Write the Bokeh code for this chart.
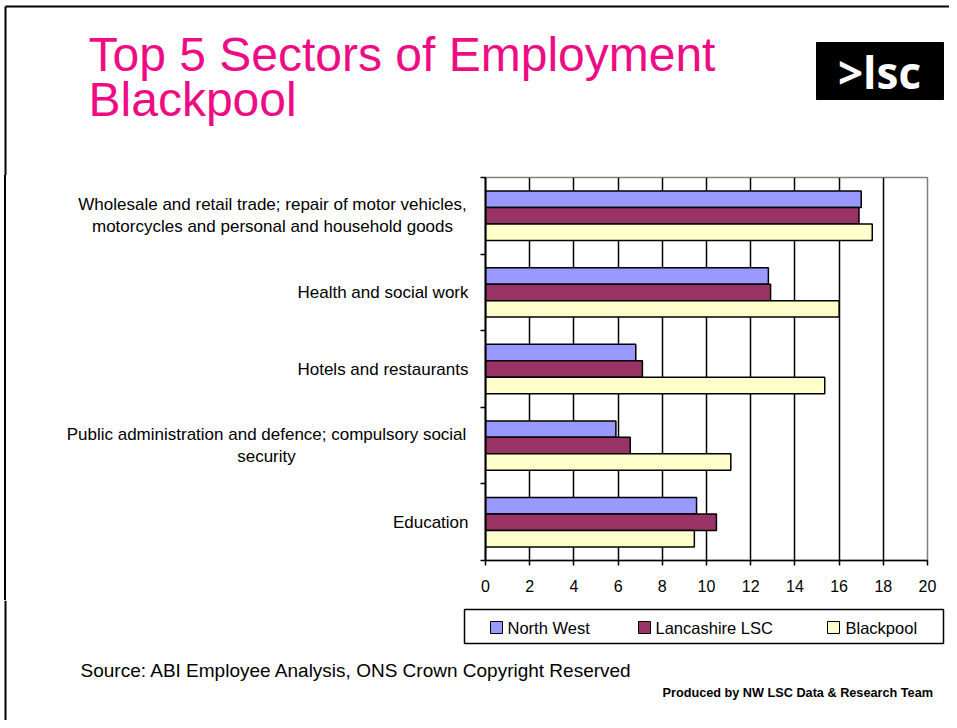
from bokeh.plotting import figure
from bokeh.models import (Range1d, FactorRange, LinearAxis, FixedTicker, ColumnDataSource, Grid)
from bokeh.transform import dodge
from bokeh.layouts import column, row
from bokeh.core.properties import value
from bokeh.embed import file_html
from bokeh.resources import INLINE

# ---------------- data ----------------
categories = [
    "Wholesale and retail trade; repair of motor vehicles, motorcycles and personal and household goods",
    "Health and social work",
    "Hotels and restaurants",
    "Public administration and defence; compulsory social security",
    "Education",
]
tick_labels = [
    "Wholesale and retail trade; repair of motor vehicles,\nmotorcycles and personal and household goods",
    "Health and social work",
    "Hotels and restaurants",
    "Public administration and defence; compulsory social\nsecurity",
    "Education",
]
series_names = ["North West", "Lancashire LSC", "Blackpool"]
north_west = [17.0, 12.8, 6.8, 5.9, 9.55]
lancashire = [16.9, 12.9, 7.1, 6.55, 10.45]
blackpool = [17.5, 16.0, 15.35, 11.1, 9.45]
x_ticks = [0, 2, 4, 6, 8, 10, 12, 14, 16, 18, 20]

title_line1 = "Top 5 Sectors of Employment"
title_line2 = "Blackpool"
logo_text = ">lsc"
source_text = "Source: ABI  Employee Analysis, ONS Crown Copyright Reserved"
produced_text = "Produced by NW LSC Data & Research Team"

colors = ["#9999FF", "#993366", "#FFFFCC"]
FONT = "Liberation Sans"
PINK = "#EE0C84"
W = 949


def blank(width, height, x_range, y_range):
    f = figure(width=width, height=height, x_range=x_range, y_range=y_range,
               x_axis_type=None, y_axis_type=None, output_backend="svg",
               toolbar_location=None, min_border_left=0, min_border_right=0,
               min_border_top=0, min_border_bottom=0)
    f.outline_line_color = None
    f.background_fill_color = "white"
    f.border_fill_color = "white"
    f.grid.visible = False
    return f


# ---------------- header (page pixels 0..175) ----------------
HH = 175
hdr = blank(W, HH, Range1d(0, W), Range1d(HH, 0))
hdr.segment(x0=[5, 5], y0=[6, 6], x1=[W, 5], y1=[6, HH], line_color="black", line_width=2)
hdr.text(x=[88, 88], y=[54, 99], text=[title_line1, title_line2],
         text_font=value(FONT), text_font_size="48px", text_color=PINK,
         text_align="left", text_baseline="alphabetic")
hdr.quad(left=[816], right=[943], top=[42], bottom=[99], fill_color="black", line_color="black")
hdr.text(x=[879], y=[71], text=[logo_text], text_font=value("Open Sans"),
         text_font_size="44px", text_font_style="bold", text_color="white",
         text_align="center", text_baseline="alphabetic")

# ---------------- chart row (page pixels 175..600) ----------------
PAD_T, PAD_B = 2, 40
FRAME_H = 383
RH = PAD_T + FRAME_H + PAD_B
LW = 470
factors = categories[::-1]
n = len(factors)

src = ColumnDataSource(dict(cat=categories, nw=north_west, lancs=lancashire, bp=blackpool))

p = figure(width=W - LW, height=RH,
           y_range=FactorRange(factors=factors, range_padding=0, factor_padding=0),
           x_range=Range1d(0, 20), x_axis_type=None, y_axis_type=None,
           output_backend="svg", toolbar_location=None,
           min_border_left=15, min_border_right=22,
           min_border_top=PAD_T, min_border_bottom=PAD_B)
p.background_fill_color = "white"
p.border_fill_color = "white"
p.outline_line_color = "#808080"
p.outline_line_width = 1.5

p.add_layout(Grid(dimension=0, ticker=FixedTicker(ticks=x_ticks[1:-1]),
                  grid_line_color="black", grid_line_width=1.5))

xaxis = LinearAxis(ticker=FixedTicker(ticks=x_ticks))
xaxis.axis_line_color = "black"
xaxis.axis_line_width = 1.5
xaxis.major_tick_out = 5
xaxis.major_tick_in = 0
xaxis.major_tick_line_width = 1.5
xaxis.minor_tick_line_color = None
xaxis.major_label_standoff = 14
xaxis.major_label_text_font = FONT
xaxis.major_label_text_font_size = "16px"
xaxis.major_label_text_color = "black"
p.add_layout(xaxis, "below")

bounds = [float(i) for i in range(n + 1)]
yaxis = LinearAxis(ticker=FixedTicker(ticks=[], minor_ticks=bounds))
yaxis.axis_line_color = "black"
yaxis.axis_line_width = 2
yaxis.major_tick_line_color = None
yaxis.minor_tick_out = 5
yaxis.minor_tick_in = 0
yaxis.minor_tick_line_color = "black"
yaxis.minor_tick_line_width = 1.5
yaxis.major_label_standoff = 0
p.add_layout(yaxis, "left")

h = 0.215
for col, off, c in zip(["nw", "lancs", "bp"], [h, 0, -h], colors):
    p.hbar(y=dodge("cat", off, range=p.y_range), left=0, right=col, height=h, source=src,
           fill_color=c, line_color="black", line_width=1.5)

# category labels, in a strip left of the chart sharing the same factor range
lf = blank(LW, RH, Range1d(0, LW), p.y_range)
lf.background_fill_alpha = 0
lf.border_fill_alpha = 0
# page border line continues down this strip (drawn as a CSS background of the strip)
lf.styles = {"background": "linear-gradient(to right, white 4px, black 4px, black 6px, white 6px)"}
label_x = [272, 468, 468, 266, 468]
label_align = ["center", "right", "right", "center", "right"]
lsrc = ColumnDataSource(dict(y=categories, text=tick_labels, x=label_x, align=label_align))
lf.text(x="x", y="y", text="text", text_align="align", source=lsrc,
        text_font=value(FONT), text_font_size="17px", text_color="black",
        text_baseline="middle", text_line_height=1.15)

# ---------------- footer (page pixels 600..720) ----------------
FH = 120
ftr = blank(W, FH, Range1d(0, W), Range1d(600 + FH, 600))
ftr.segment(x0=[5], y0=[600], x1=[5], y1=[600 + FH], line_color="black", line_width=2)
# legend
ftr.quad(left=[464], right=[943], top=[609], bottom=[643], fill_alpha=0,
         line_color="black", line_width=1.5)
ftr.rect(x=[496, 644, 833], y=[627, 627, 627], width=12, height=12,
         fill_color=colors, line_color="black", line_width=1)
ftr.text(x=[507, 655, 845], y=[627, 627, 627], text=series_names,
         text_font=value(FONT), text_font_size="16.5px", text_color="black",
         text_align="left", text_baseline="middle")
# source lines
ftr.text(x=[80], y=[670], text=[source_text], text_font=value(FONT),
         text_font_size="19px", text_color="black", text_align="left",
         text_baseline="alphabetic")
ftr.text(x=[662], y=[692], text=[produced_text], text_font=value(FONT),
         text_font_size="12.7px", text_font_style="bold", text_color="black",
         text_align="left", text_baseline="alphabetic")

layout = column(hdr, row(lf, p, spacing=0), ftr, spacing=0)
open("out.html", "w").write(file_html(layout, INLINE))
